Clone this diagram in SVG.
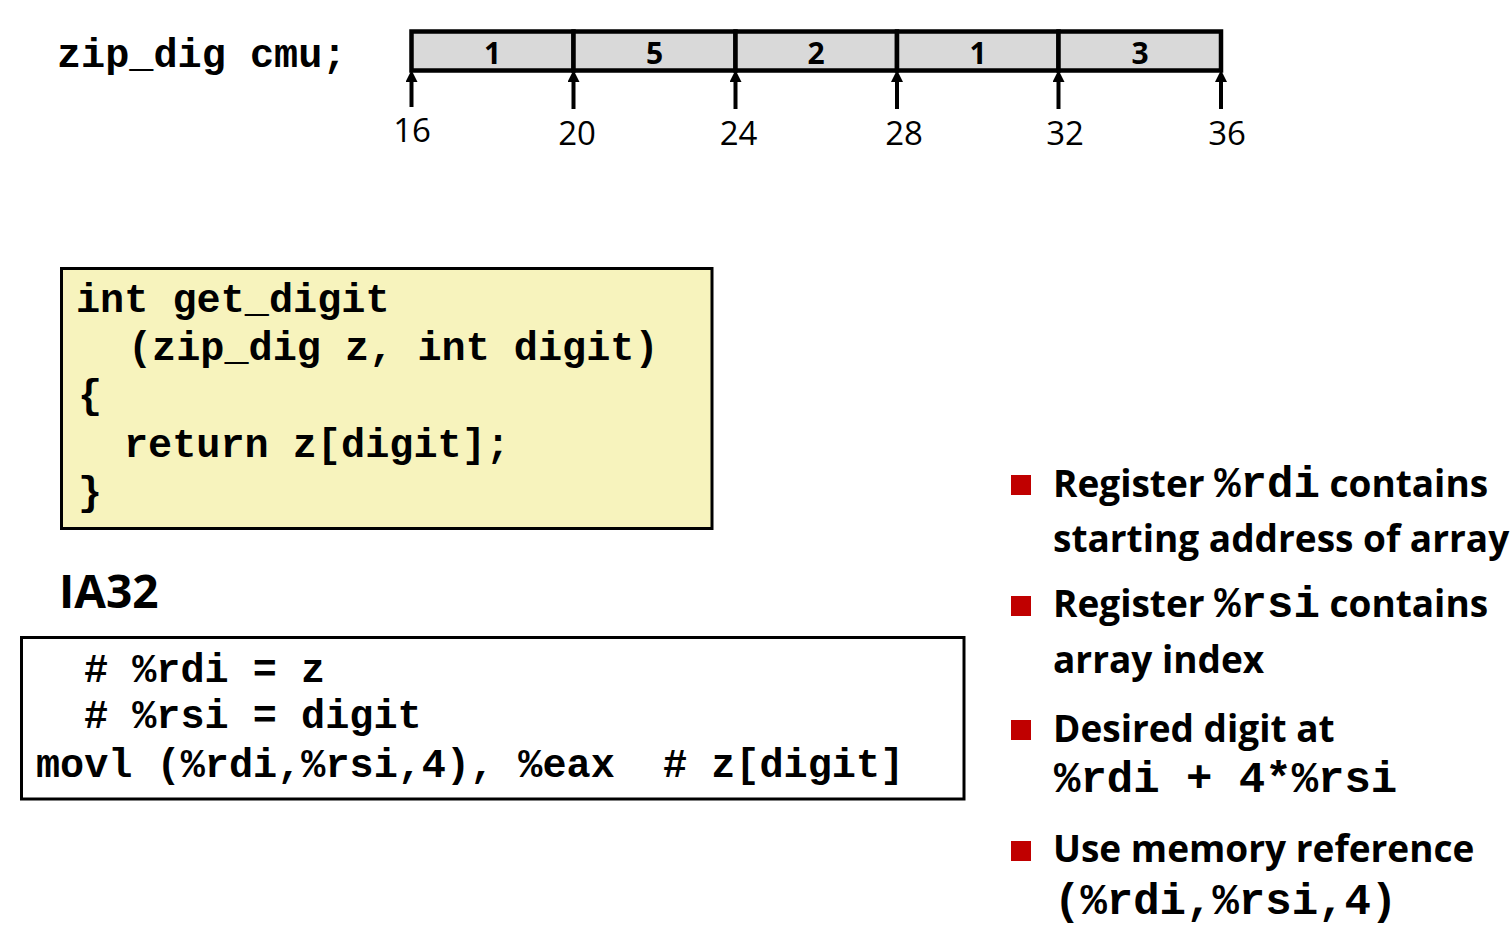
<svg xmlns="http://www.w3.org/2000/svg" width="1511" height="932" viewBox="0 0 1511 932">
<defs>
<style>
.mono{font-family:"Liberation Mono","Courier New",monospace;font-weight:bold;fill:#000}
.code{font-size:40.2px}
.sans{font-family:"Open Sans","Noto Sans",sans-serif;fill:#000}
.cellnum{font-family:"Open Sans","Noto Sans",sans-serif;font-weight:bold;font-size:30px;text-anchor:middle}
.addr{font-family:"Open Sans","Noto Sans",sans-serif;font-size:33px;text-anchor:middle}
.cell{fill:#d9d9d9;stroke:#000;stroke-width:4.5}
.bul{font-family:"Open Sans","Noto Sans",sans-serif;font-weight:bold;font-size:37px}
.bm{font-family:"Liberation Mono","Courier New",monospace;font-weight:bold;font-size:44px}
.sq{fill:#c00000}
.arr{stroke:#000;stroke-width:4;fill:none;marker-end:url(#ah)}
</style>
<marker id="ah" viewBox="0 0 12 12" refX="6" refY="6" markerWidth="12" markerHeight="12" markerUnits="userSpaceOnUse" orient="auto">
<path d="M0,0 L12,6 L0,12 z" fill="#000"/>
</marker>
</defs>
<rect width="1511" height="932" fill="#fff"/>

<g id="decl">
<text class="mono code" x="57" y="67">zip_dig cmu;</text>
</g>

<g id="array">
<g id="cell0"><rect class="cell" x="411.5" y="31.5" width="162" height="39"/><text class="cellnum" x="492.5" y="64">1</text></g>
<g id="cell1"><rect class="cell" x="573.5" y="31.5" width="162" height="39"/><text class="cellnum" x="654.5" y="64">5</text></g>
<g id="cell2"><rect class="cell" x="735.5" y="31.5" width="161.5" height="39"/><text class="cellnum" x="816" y="64">2</text></g>
<g id="cell3"><rect class="cell" x="897" y="31.5" width="161.5" height="39"/><text class="cellnum" x="978" y="64">1</text></g>
<g id="cell4"><rect class="cell" x="1058.5" y="31.5" width="162.5" height="39"/><text class="cellnum" x="1140" y="64">3</text></g>
</g>

<g id="connectors">
<line class="arr" x1="411.5" y1="107" x2="411.5" y2="76"/>
<line class="arr" x1="573.5" y1="109" x2="573.5" y2="76"/>
<line class="arr" x1="735.5" y1="109" x2="735.5" y2="76"/>
<line class="arr" x1="897" y1="109" x2="897" y2="76"/>
<line class="arr" x1="1058.5" y1="109" x2="1058.5" y2="76"/>
<line class="arr" x1="1221" y1="109" x2="1221" y2="76"/>
</g>

<g id="addresses">
<text class="addr" x="412" y="142">16</text>
<text class="addr" x="577" y="145">20</text>
<text class="addr" x="738.5" y="145">24</text>
<text class="addr" x="904" y="145">28</text>
<text class="addr" x="1065" y="145">32</text>
<text class="addr" x="1227" y="145">36</text>
</g>

<g id="c-code">
<rect x="61.5" y="268.5" width="650.5" height="260" fill="#f7f3bd" stroke="#000" stroke-width="3"/>
<text class="mono code" x="76" y="312">int get_digit</text>
<text class="mono code" x="128" y="360" font-size="39.6px">(zip_dig z, int digit)</text>
<text class="mono code" x="78" y="408">{</text>
<text class="mono code" x="124" y="457">return z[digit];</text>
<text class="mono code" x="78" y="505">}</text>
</g>

<g id="ia32-label">
<text class="sans" x="59" y="608" font-weight="bold" font-size="46">IA32</text>
</g>

<g id="asm-code">
<rect x="21.5" y="637.5" width="942.5" height="161.5" fill="#fff" stroke="#000" stroke-width="3"/>
<text class="mono code" x="84" y="682" xml:space="preserve"># %rdi = z</text>
<text class="mono code" x="84" y="728" xml:space="preserve"># %rsi = digit</text>
<text class="mono code" x="36" y="777" xml:space="preserve">movl (%rdi,%rsi,4), %eax  # z[digit]</text>
</g>

<g id="bullets">
<g id="b1">
<rect class="sq" x="1011" y="475" width="20" height="20"/>
<text class="bul" x="1053" y="497">Register <tspan class="bm">%rdi</tspan> contains</text>
<text class="bul" x="1053" y="552">starting address of array</text>
</g>
<g id="b2">
<rect class="sq" x="1011" y="596" width="20" height="20"/>
<text class="bul" x="1053" y="617">Register <tspan class="bm">%rsi</tspan> contains</text>
<text class="bul" x="1053" y="673">array index</text>
</g>
<g id="b3">
<rect class="sq" x="1011" y="720" width="20" height="20"/>
<text class="bul" x="1053" y="742">Desired digit at</text>
<text class="bm" x="1054" y="792">%rdi + 4*%rsi</text>
</g>
<g id="b4">
<rect class="sq" x="1011" y="841" width="20" height="20"/>
<text class="bul" x="1053" y="862">Use memory reference</text>
<text class="bm" x="1054" y="914">(%rdi,%rsi,4)</text>
</g>
</g>
</svg>
